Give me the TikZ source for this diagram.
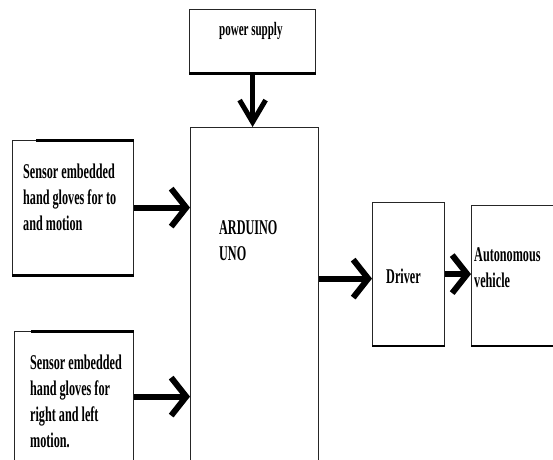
\documentclass[tikz,border=0pt]{standalone}
\usepackage{fontspec}
\setmainfont{Liberation Serif}[FakeStretch=0.58]
\usetikzlibrary{arrows.meta,calc}

\begin{document}
\begin{tikzpicture}[x=1pt,y=-1pt,
        blk/.style={draw=black!85, line width=1.2pt, anchor=north west, inner sep=0pt},
        lbl/.style={anchor=base west, align=left, inner sep=0pt, font=\fontsize{21}{26}\selectfont\bfseries},
        rim/.style={line width=3pt},
        fat/.style={line width=6pt, -{Straight Barb[length=15pt,width=38pt]}}]
    \useasboundingbox (0,0) rectangle (553,459);
    \clip (0,0) rectangle (553,459);

    % boxes
    \node[blk, minimum width=126pt, minimum height=63pt] (pwr) at (189,9) {};
    \node[blk, minimum width=128pt, minimum height=353pt] (ardu) at (190,127) {};
    \node[blk, minimum width=121pt, minimum height=134pt] (sen1) at (12,140) {};
    \node[blk, minimum width=119pt, minimum height=130pt] (sen2) at (14,331) {};
    \node[blk, minimum width=72pt, minimum height=143pt] (drv) at (372,202) {};
    \node[blk, minimum width=89pt, minimum height=140pt] (veh) at (471,205) {};

    % heavier edges
    \draw[rim] (pwr.south west) -- (pwr.south east);
    \draw[rim] ([xshift=24pt]sen1.north west) -- (sen1.north east);
    \draw[rim] (sen1.south west) -- (sen1.south east);
    \draw[rim] ([xshift=17pt]sen2.north west) -- (sen2.north east);
    \draw[line width=2pt] (drv.south west) -- (drv.south east);
    \draw[line width=2pt] (veh.south west) -- (veh.south east);

    % texts (base = last line)
    \node[lbl, font=\fontsize{19}{24}\selectfont\bfseries] (tpwr) at (219,35) {power supply};
    \node[lbl] (tardu) at (219,260) {ARDUINO\\UNO};
    \node[lbl] (tsen1) at (23,230) {Sensor embedded\\hand gloves for to\\and motion};
    \node[lbl] (tsen2) at (30,447) {Sensor embedded\\hand gloves for\\right and left\\motion.};
    \node[lbl] (tdrv) at (386,283) {Driver};
    \node[lbl] (tveh) at (474,287) {Autonomous\\vehicle};

    % arrows
    \draw[line width=5pt, -{Straight Barb[length=22pt,width=26pt]}] (pwr.south) -- (pwr.south |- ardu.north);
    \draw[fat] (sen1) -- (sen1 -| ardu.west);
    \draw[fat] (sen2) -- (sen2 -| ardu.west);
    \draw[fat] ([yshift=-4.5pt]drv.west -| ardu.east) -- ([yshift=-4.5pt]drv.west);
    \draw[fat] (drv.east) -- (drv.east -| veh.west);
\end{tikzpicture}
\end{document}
